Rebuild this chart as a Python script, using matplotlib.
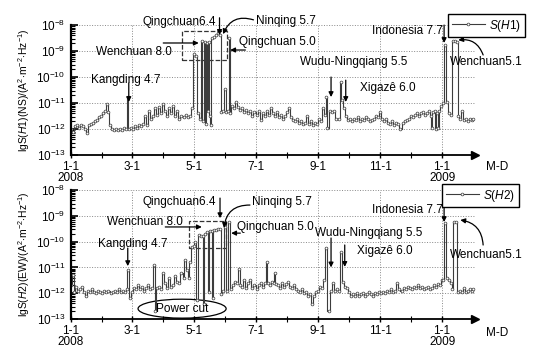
import numpy as np
import matplotlib
matplotlib.use("Agg")
import matplotlib.pyplot as plt
from matplotlib.patches import Ellipse, Rectangle

plt.rcParams['font.family'] = ['Liberation Sans', 'DejaVu Sans']
plt.rcParams['mathtext.fontset'] = 'custom'
plt.rcParams['mathtext.rm'] = 'Liberation Sans'
plt.rcParams['mathtext.it'] = 'Liberation Sans:italic'

# days counted from 2008-01-01, values are lg of spectral density
h1_days = [0, 2, 4, 6, 8, 10, 12, 14, 16, 18, 20, 22, 24, 26, 28, 30, 32, 34, 36, 37,
           38, 40, 42, 44, 46, 48, 50, 52, 54, 56, 57, 59, 61, 63, 65, 67, 69, 71, 73, 75,
           77, 79, 81, 83, 85, 87, 89, 91, 93, 95, 97, 99, 101, 103, 105, 107, 109, 111, 113, 115,
           117, 119, 121, 123, 125, 127, 129, 130, 132, 133, 134, 135, 136, 137, 138, 139, 141, 143, 145, 147,
           148, 150, 152, 153, 155, 156, 157, 159, 161, 163, 165, 167, 169, 171, 173, 175, 177, 179, 181, 183,
           185, 187, 189, 191, 193, 195, 197, 199, 201, 203, 205, 207, 209, 211, 213, 215, 217, 219, 221, 223,
           225, 227, 229, 231, 233, 235, 237, 239, 241, 243, 245, 247, 249, 251, 252, 253, 255, 257, 259, 261,
           264, 266, 267, 269, 271, 273, 275, 277, 279, 281, 283, 285, 287, 289, 291, 293, 295, 297, 299, 301,
           303, 305, 307, 309, 311, 313, 315, 317, 319, 321, 323, 325, 327, 329, 331, 333, 335, 337, 339, 341,
           343, 345, 347, 349, 351, 353, 355, 356, 357, 359, 360, 361, 362, 363, 365, 367, 369, 371, 373, 375,
           377, 379, 381, 382, 384, 386, 388, 390, 392, 394, 396, 397]
h1_lg = [-12.0, -12.1, -11.9, -11.85, -11.95, -11.85, -11.9, -12.0, -12.15, -11.85, -11.8, -11.75, -11.7, -11.65, -11.55, -11.5, -11.4, -11.3, -11.05, -11.35,
         -11.85, -12.0, -12.05, -12.0, -12.05, -12.0, -12.05, -11.95, -12.0, -10.75, -12.0, -11.95, -12.0, -11.9, -11.95, -11.85, -11.9, -11.8, -11.5, -11.85,
         -11.3, -11.6, -11.5, -11.2, -11.45, -11.15, -11.4, -11.05, -11.3, -11.5, -11.2, -11.4, -11.1, -11.5, -11.3, -11.6, -11.5, -11.55, -11.45, -11.55,
         -11.5, -11.2, -9.1, -9.2, -11.4, -11.6, -8.6, -11.7, -8.65, -11.8, -8.7, -11.3, -8.65, -11.5, -11.85, -8.5, -8.45, -8.4, -8.3, -8.4,
         -11.35, -11.3, -10.45, -11.35, -11.3, -8.5, -11.4, -11.1, -11.2, -10.95, -11.15, -11.25, -11.2, -11.35, -11.25, -11.4, -11.3, -11.5, -11.35, -11.45,
         -11.3, -11.65, -11.4, -11.5, -11.3, -11.45, -11.2, -11.4, -11.5, -11.35, -11.55, -11.45, -11.6, -11.5, -11.35, -11.2, -11.55, -11.65, -11.7, -11.6,
         -11.75, -11.7, -11.8, -11.75, -11.5, -11.8, -11.7, -11.85, -11.75, -11.8, -11.6, -11.7, -11.2, -11.45, -10.77, -11.95, -11.3, -11.35, -11.3, -11.6,
         -11.6, -10.2, -10.9, -11.2, -11.5, -11.65, -11.6, -11.7, -11.6, -11.65, -11.55, -11.7, -11.6, -11.65, -11.55, -11.6, -11.7, -11.65, -11.6, -11.5,
         -11.55, -11.35, -11.6, -11.7, -11.6, -11.75, -11.8, -11.7, -11.85, -11.75, -11.8, -12.0, -11.75, -11.7, -11.65, -11.6, -11.5, -11.55, -11.45, -11.4,
         -11.5, -11.4, -11.35, -11.45, -11.4, -11.3, -11.5, -11.95, -11.35, -11.3, -12.0, -11.4, -11.95, -11.3, -11.1, -11.0, -8.75, -10.95, -11.4, -11.45,
         -8.6, -8.6, -8.65, -11.5, -11.6, -11.3, -11.65, -11.6, -11.7, -11.6, -11.65, -11.6]

h2_days = [0, 2, 3, 5, 7, 9, 11, 13, 15, 17, 19, 21, 23, 25, 27, 29, 31, 33, 35, 37,
           39, 41, 43, 45, 47, 49, 51, 53, 55, 56, 58, 60, 62, 64, 66, 68, 70, 72, 74, 76,
           78, 80, 82, 83, 85, 87, 89, 91, 93, 95, 97, 99, 101, 103, 105, 107, 109, 111, 112, 114,
           116, 117, 119, 121, 122, 124, 126, 128, 130, 131, 132, 134, 136, 137, 139, 140, 141, 143, 145, 147,
           148, 150, 152, 154, 156, 158, 160, 162, 164, 166, 167, 169, 171, 173, 175, 177, 179, 181, 183, 185,
           187, 189, 191, 193, 194, 196, 198, 200, 201, 202, 204, 206, 208, 210, 212, 214, 216, 218, 220, 222,
           224, 226, 228, 230, 232, 234, 236, 238, 240, 242, 244, 246, 248, 250, 252, 254, 256, 258, 260, 262,
           264, 266, 268, 270, 272, 274, 276, 278, 280, 282, 284, 286, 288, 290, 292, 294, 296, 298, 300, 302,
           304, 306, 308, 310, 312, 314, 316, 318, 320, 322, 324, 326, 328, 330, 332, 334, 336, 338, 340, 342,
           344, 346, 348, 350, 352, 354, 356, 358, 360, 362, 364, 366, 367, 369, 371, 373, 375, 376, 378, 380,
           382, 384, 386, 388, 390, 392, 394, 396, 397]
h2_lg = [-11.7, -11.3, -11.95, -11.75, -11.9, -11.85, -11.75, -11.95, -12.1, -11.9, -11.95, -11.85, -11.95, -12.0, -11.9, -11.95, -12.0, -11.9, -11.95, -11.9,
         -12.0, -11.95, -11.9, -11.95, -11.85, -11.95, -11.9, -11.95, -11.85, -11.1, -12.2, -11.95, -11.8, -11.85, -11.7, -11.85, -11.75, -11.9, -11.8, -11.7,
         -11.85, -11.8, -10.9, -12.7, -11.8, -11.75, -11.85, -11.2, -11.6, -11.8, -11.4, -11.75, -11.7, -11.35, -11.55, -11.6, -11.2, -11.4, -10.7, -11.1,
         -11.4, -10.8, -10.2, -10.15, -10.0, -12.25, -9.75, -9.8, -9.8, -12.4, -9.7, -9.62, -11.95, -9.6, -9.6, -12.2, -9.55, -9.55, -9.5, -9.5,
         -12.05, -11.9, -9.43, -11.9, -9.25, -11.85, -11.7, -11.55, -11.6, -11.05, -11.7, -11.75, -11.5, -11.8, -11.6, -11.5, -11.8, -11.7, -11.85, -11.7,
         -11.6, -11.75, -11.6, -10.8, -11.6, -11.7, -11.55, -11.6, -11.2, -11.65, -11.7, -11.8, -11.6, -11.75, -11.65, -11.55, -11.75, -11.8, -11.7, -11.85,
         -11.9, -11.95, -11.85, -12.0, -11.95, -12.1, -12.05, -12.4, -12.1, -11.95, -11.9, -11.75, -11.8, -11.5, -10.25, -12.7, -11.9, -11.6, -11.9, -11.85,
         -11.9, -10.4, -11.55, -11.75, -11.8, -11.95, -12.1, -12.05, -12.1, -12.0, -12.1, -12.05, -12.0, -12.1, -12.05, -11.95, -12.05, -12.1, -12.0, -12.05,
         -11.95, -12.0, -11.95, -12.0, -11.9, -11.95, -11.85, -11.95, -11.9, -11.6, -11.85, -11.9, -11.8, -11.85, -11.75, -11.8, -11.85, -11.75, -11.8, -11.7,
         -11.8, -11.75, -11.85, -11.8, -11.75, -11.85, -11.8, -11.7, -11.75, -11.65, -11.7, -11.5, -11.5, -9.28, -11.4, -11.5, -11.6, -11.85, -9.25, -9.25,
         -11.95, -11.9, -11.95, -11.8, -11.95, -11.9, -11.85, -11.9, -11.85]

tick_days = [0, 60, 121, 182, 244, 305, 366]
tick_labels = ['1-1\n2008', '3-1', '5-1', '7-1', '9-1', '11-1', '1-1\n2009']
month_days = [31, 91, 152, 213, 274, 335, 397]

LINE = '#3c3c3c'
FS = 8.5


def setup_axes(ax, ylabel):
    ax.set_yscale('log')
    ax.set_ylim(1e-13, 1e-8)
    ax.set_xlim(0, 398.5)
    ax.set_xticks(tick_days)
    ax.set_xticklabels(tick_labels, fontsize=FS, linespacing=0.95)
    ax.set_xticks(month_days, minor=True)
    ax.yaxis.set_major_locator(matplotlib.ticker.LogLocator(base=10, numticks=10))
    ax.yaxis.set_minor_locator(matplotlib.ticker.LogLocator(base=10, subs=np.arange(2, 10), numticks=12))
    ax.tick_params(axis='y', which='major', direction='in', length=5, width=1.2, labelsize=FS, pad=4)
    ax.tick_params(axis='y', which='minor', direction='in', length=3, width=0.8)
    ax.tick_params(axis='x', which='major', direction='inout', length=5, width=1.0, labelsize=FS, pad=1.5)
    ax.tick_params(axis='x', which='minor', direction='inout', length=4, width=0.8)
    for s in ['top', 'right']:
        ax.spines[s].set_visible(False)
    ax.spines['left'].set_linewidth(1.6)
    ax.spines['bottom'].set_linewidth(1.3)
    ax.grid(True, which='major', ls=':', color='#888888', lw=0.7)
    ax.set_ylabel(ylabel, fontsize=7.5)
    ax.yaxis.set_label_coords(-0.097, 0.5)
    ax.plot([1.0], [0.0], marker='>', ms=6, color='k', transform=ax.transAxes, clip_on=False)


def arrow(ax, x0, l0, x1, l1, rad=0.0):
    ax.annotate('', xy=(x1, 10 ** l1), xytext=(x0, 10 ** l0),
                arrowprops=dict(arrowstyle='-|>', color='k', lw=0.9, mutation_scale=7,
                                shrinkA=0, shrinkB=0,
                                connectionstyle='arc3,rad=%s' % rad),
                annotation_clip=False)


def label(ax, x, l, s, ha='left'):
    ax.text(x, 10 ** l, s, fontsize=FS, ha=ha, va='center', clip_on=False)


fig = plt.figure(figsize=(5.46, 3.58), dpi=100)
ax1 = fig.add_axes([0.130, 0.567, 0.740, 0.363])
ax2 = fig.add_axes([0.130, 0.109, 0.740, 0.360])

setup_axes(ax1, r'lgS($H$1)(NS)/(A$^{2}$$\cdot$m$^{-2}$$\cdot$Hz$^{-1}$)')
setup_axes(ax2, r'lgS($H$2)(EW)/(A$^{2}$$\cdot$m$^{-2}$$\cdot$Hz$^{-1}$)')

ax1.plot(h1_days, 10 ** np.array(h1_lg), drawstyle='steps-mid', color=LINE, lw=0.8,
         marker='o', ms=2.0, mfc='white', mec=LINE, mew=0.5, label=r'$S$($H$1)')
ax2.plot(h2_days, 10 ** np.array(h2_lg), drawstyle='steps-mid', color=LINE, lw=0.8,
         marker='o', ms=2.0, mfc='white', mec=LINE, mew=0.5, label=r'$S$($H$2)')

# top panel annotations
label(ax1, 143, -7.88, 'Qingchuan6.4', ha='right')
arrow(ax1, 146.5, -7.72, 146.5, -8.38)
label(ax1, 182.5, -7.85, 'Ninqing 5.7')
arrow(ax1, 180, -7.8, 150, -8.35, rad=0.45)
label(ax1, 99.6, -9.04, 'Wenchuan 8.0', ha='right')
arrow(ax1, 91, -8.69, 126, -8.69)
label(ax1, 165.5, -8.65, 'Qingchuan 5.0')
arrow(ax1, 172, -8.96, 157, -8.96)
label(ax1, 54, -10.12, 'Kangding 4.7', ha='center')
arrow(ax1, 57, -10.23, 57, -10.96)
label(ax1, 279, -9.42, 'Wudu-Ningqiang 5.5', ha='center')
arrow(ax1, 256.5, -10.0, 256.5, -10.77)
arrow(ax1, 271, -10.12, 271, -10.96)
label(ax1, 312, -10.42, 'Xigazê 6.0', ha='center')
label(ax1, 367, -8.23, 'Indonesia 7.7', ha='right')
arrow(ax1, 368, -8.0, 368, -8.69)
label(ax1, 374, -9.42, 'Wenchuan5.1')
arrow(ax1, 406.5, -9.15, 382, -8.58, rad=0.4)
ax1.add_patch(Rectangle((109.5, 10 ** -9.35), 44.5, 10 ** -8.23 - 10 ** -9.35,
                        fill=False, ls='--', lw=0.9, ec='#333333'))

# bottom panel annotations
label(ax2, 143, -8.47, 'Qingchuan6.4', ha='right')
arrow(ax2, 147, -8.31, 147, -9.09)
label(ax2, 178.5, -8.47, 'Ninqing 5.7')
arrow(ax2, 176.5, -8.58, 151, -9.47, rad=0.45)
label(ax2, 110.5, -9.24, 'Wenchuan 8.0', ha='right')
arrow(ax2, 93, -9.43, 129, -9.43)
label(ax2, 164, -9.43, 'Qingchuan 5.0')
arrow(ax2, 167, -9.67, 158, -9.67)
label(ax2, 61, -10.09, 'Kangding 4.7', ha='center')
arrow(ax2, 56, -10.25, 56, -10.95)
label(ax2, 294, -9.67, 'Wudu-Ningqiang 5.5', ha='center')
arrow(ax2, 256.5, -9.86, 256.5, -11.0)
arrow(ax2, 270, -10.13, 270, -10.98)
label(ax2, 310, -10.36, 'Xigazê 6.0', ha='center')
label(ax2, 367, -8.78, 'Indonesia 7.7', ha='right')
arrow(ax2, 368, -8.7, 368, -9.24)
label(ax2, 374, -10.52, 'Wenchuan5.1')
arrow(ax2, 406.5, -10.13, 384, -9.16, rad=0.4)
ax2.add_patch(Rectangle((116.4, 10 ** -10.25), 36.6, 10 ** -9.2 - 10 ** -10.25,
                        fill=False, ls='--', lw=0.9, ec='#333333'))
ax2.add_patch(Ellipse((0.275, 0.08), 0.218, 0.147, transform=ax2.transAxes,
                      fill=False, ec='k', lw=0.9, clip_on=False))
ax2.text(0.275, 0.08, 'Power cut', transform=ax2.transAxes, fontsize=FS,
         ha='center', va='center')

for ax, box in [(ax1, (525 / 546, 1 - 14 / 358)), (ax2, (519 / 546, 1 - 184 / 358))]:
    ax.legend(loc='upper right', bbox_to_anchor=box, bbox_transform=fig.transFigure,
              fontsize=FS, frameon=True, fancybox=False, edgecolor='k', framealpha=1,
              handlelength=2.8, borderpad=0.3, handletextpad=0.4, borderaxespad=0)

fig.text(497 / 546, 1 - 167 / 358, 'M-D', fontsize=FS, ha='center', va='center')
fig.text(497 / 546, 1 - 333 / 358, 'M-D', fontsize=FS, ha='center', va='center')

fig.savefig('out.png', dpi=100)
